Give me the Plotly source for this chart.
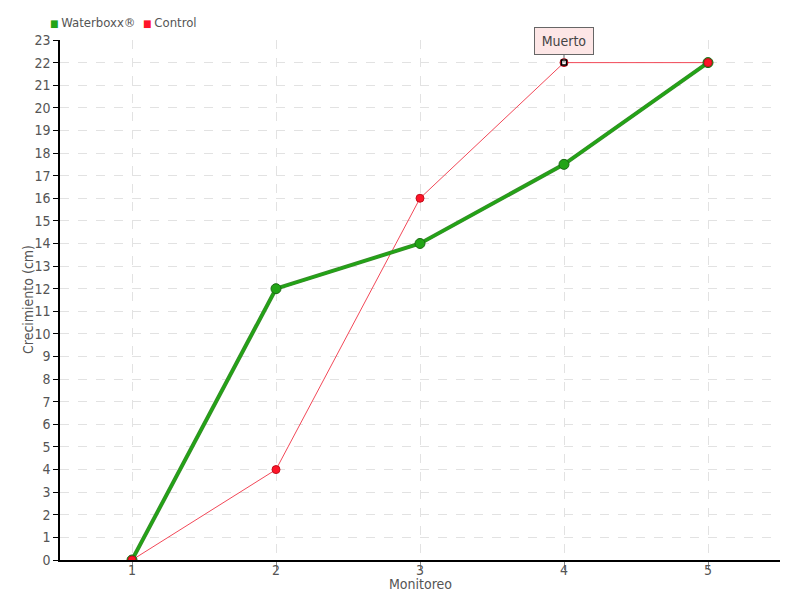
import plotly.graph_objects as go

monitoreo = [1, 2, 3, 4, 5]
waterboxx = [0, 12, 14, 17.5, 22]
control = [0, 4, 16, 22, 22]
dead_index = 3
y_ticks = list(range(0, 24))

FONT = "DejaVu Sans Condensed, DejaVu Sans, sans-serif"
green = "#22a416"
red = "#ff1428"

fig = go.Figure()

fig.add_trace(go.Scatter(
    x=monitoreo, y=control, mode="lines",
    line=dict(color="#f24858", width=1), showlegend=False, hoverinfo="skip"))

# green line with darker edges
fig.add_trace(go.Scatter(
    x=monitoreo, y=waterboxx, mode="lines",
    line=dict(color="#3b8a2c", width=4), showlegend=False, hoverinfo="skip"))
fig.add_trace(go.Scatter(
    x=monitoreo, y=waterboxx, mode="lines+markers", name="Waterboxx®",
    line=dict(color=green, width=2.5),
    marker=dict(size=10, color=green, opacity=1, line=dict(color="#1a6a14", width=1)),
    showlegend=False))

fig.add_trace(go.Scatter(
    x=monitoreo, y=control, mode="markers", name="Control",
    marker=dict(size=8, color=red, opacity=1, line=dict(color="#c0101c", width=1)),
    showlegend=False))

# dead plant marker
fig.add_trace(go.Scatter(
    x=[monitoreo[dead_index]], y=[control[dead_index]], mode="markers",
    marker=dict(size=5, color="white", symbol="square", line=dict(color="black", width=1.5)),
    showlegend=False, hoverinfo="skip"))

# legend (as text with coloured squares)
fig.add_annotation(
    xref="paper", yref="paper", x=-0.016, y=1.0, yshift=18, xanchor="left", yanchor="middle",
    showarrow=False,
    text=f"<span style='color:{green};font-size:10px'>■ </span>Waterboxx®  "
         f"<span style='color:{red};font-size:10px'>■ </span>Control",
    font=dict(family=FONT, size=13, color="#555"))

# axis titles
fig.add_annotation(
    xref="paper", yref="paper", x=0, y=0.5, xshift=-32, textangle=-90,
    xanchor="center", yanchor="middle",
    showarrow=False, text="Crecimiento (cm)",
    font=dict(family=FONT, size=14, color="#555"))
fig.add_annotation(
    xref="paper", yref="paper", x=0.5, y=0, yshift=-24,
    xanchor="center", yanchor="middle",
    showarrow=False, text="Monitoreo",
    font=dict(family=FONT, size=14, color="#555"))

fig.add_annotation(
    x=monitoreo[dead_index], y=control[dead_index], text="Muerto",
    showarrow=True, arrowhead=0, arrowwidth=1, arrowcolor="#666",
    ax=0, ay=-8, yanchor="bottom", width=48,
    bgcolor="#fde6e6", bordercolor="#666", borderwidth=1, borderpad=5,
    font=dict(family=FONT, size=14, color="#444"))

fig.update_layout(
    width=792, height=592,
    paper_bgcolor="white", plot_bgcolor="white",
    margin=dict(l=52, r=20, t=32, b=40, autoexpand=False),
    font=dict(family=FONT, size=14, color="#555"),
    showlegend=False,
)

fig.update_xaxes(
    range=[0.5, 5.5], tickvals=monitoreo, ticktext=[str(m) for m in monitoreo],
    showgrid=True, gridcolor="#e2e2e2", griddash="dash",
    showline=True, linecolor="black", linewidth=1.5,
    ticks="outside", ticklen=8, tickcolor="#888",
    ticklabelstandoff=-12,
    zeroline=False, automargin=False,
    tickfont=dict(family=FONT, size=14, color="#555"))

fig.update_yaxes(
    range=[0, 23], tickvals=y_ticks,
    showgrid=True, gridcolor="#e2e2e2", griddash="dash",
    showline=True, linecolor="black", linewidth=1.5,
    ticks="outside", ticklen=5, tickcolor="black",
    zeroline=False, automargin=False,
    tickfont=dict(family=FONT, size=14, color="#555"))

fig.write_html("out.html")
